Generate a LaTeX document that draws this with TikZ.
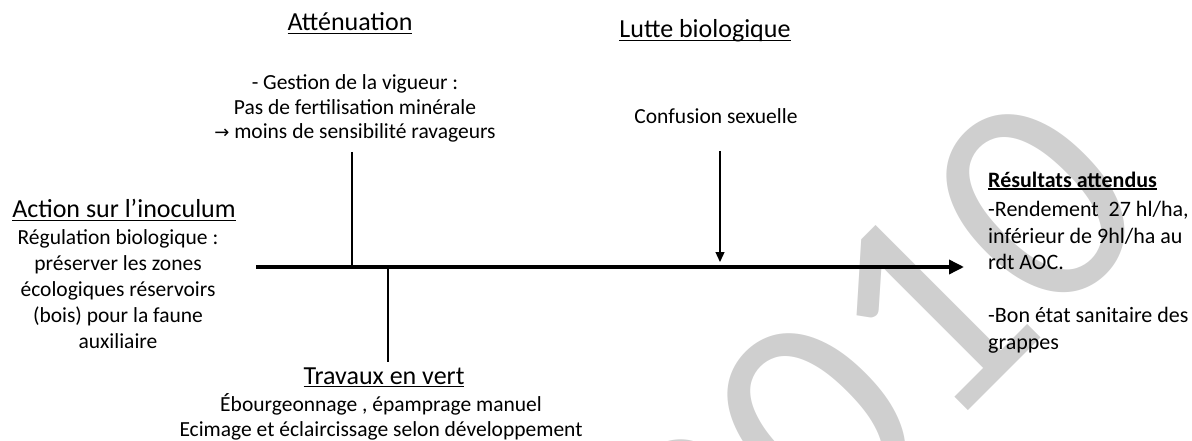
\documentclass[tikz,border=0pt]{standalone}
\usepackage{fontspec}
\setmainfont{Carlito}
\newfontfamily\symb{DejaVu Sans}
\usetikzlibrary{arrows.meta,positioning}

% souligne a la maniere de Word
\newcommand{\souligne}[1]{\setbox0\hbox{#1}\rlap{\rule[-0.12em]{\wd0}{0.06em}}\box0}

\tikzset{
  titre/.style={font=\fontsize{26}{31}\selectfont, inner sep=0pt, anchor=base},
  corps/.style={font=\fontsize{21.5}{25.5}\selectfont, inner sep=0pt, align=center, anchor=base},
  axe/.style={line width=3.5pt, -{Triangle[length=15pt,width=14pt]}},
  trait/.style={line width=1.3pt},
  fleche/.style={line width=1.3pt, -{Triangle[length=10pt,width=9pt]}},
  filigrane/.style={text=black!19, font=\fontsize{305}{305}\selectfont, inner sep=0pt, rotate=45}
}

\begin{document}
\begin{tikzpicture}[x=1pt,y=-1pt]
\useasboundingbox (0,0) rectangle (1192,441);

% filigrane
\node[filigrane] (wm) at (872,368) {2010};

% titres
\node[titre] (att) at (350,31) {\souligne{Atténuation}};
\node[titre] (lut) at (705,38) {\souligne{Lutte biologique}};
\node[titre] (inoc) at (124,218) {\souligne{Action sur l’inoculum}};
\node[titre] (trav) at (384,384) {\souligne{Travaux en vert}};

% textes (ancre base = derniere ligne)
\node[corps] (gest) at (355,139) {- Gestion de la vigueur :\\[-1pt] Pas de fertilisation minérale\\[-1pt] {\symb\fontsize{18}{20}\selectfont →} moins de sensibilité ravageurs};
\node[corps] (conf) at (716,124) {Confusion sexuelle};
\node[corps] (reg) at (118,348) {Régulation biologique :\\[0.5pt] préserver les zones\\[0.5pt] écologiques réservoirs\\[0.5pt] (bois) pour la faune\\[0.5pt] auxiliaire};
\node[corps] (ebou) at (381,436) {Ébourgeonnage , épamprage manuel\\[-1pt] Ecimage et éclaircissage selon développement};
\node[corps, font=\fontsize{22}{26.5}\selectfont, align=left, anchor=base west] (res) at (988,349)
  {\textbf{\souligne{Résultats attendus}}\\[3pt] -Rendement\ \ 27 hl/ha,\\ inférieur de 9hl/ha au\\ rdt AOC.\\[26.5pt] -Bon état sanitaire des\\ grappes};

% axe du temps
\coordinate (a0) at (256,267);
\coordinate (a1) at (964,267);
\draw[axe] (a0) -- (a1);

% liaisons
\coordinate (v1) at (352,152);
\coordinate (v2) at (388,362);
\coordinate (c1) at (720,151);
\draw[trait] (v1) -- (v1 |- a0);
\draw[trait] (v2 |- a0) -- (v2);
\draw[fleche, shorten >=5pt] (c1) -- (c1 |- a0);
\end{tikzpicture}
\end{document}
